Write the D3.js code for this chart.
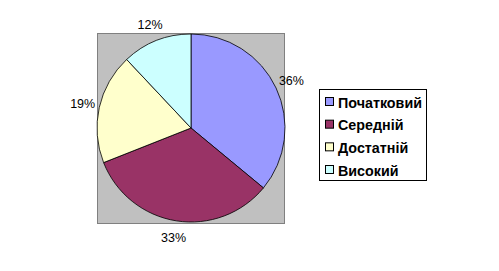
<!DOCTYPE html>
<html><head><meta charset="utf-8">
<script src="https://cdn.jsdelivr.net/npm/d3@7"></script>
<style>body{margin:0;background:#fff}svg{display:block}</style>
</head><body>
<script>
const categories = ["Початковий", "Середній", "Достатній", "Високий"];
const values = [36, 33, 19, 12];
const colors = ["#9999FF", "#993366", "#FFFFCC", "#CCFFFF"];

const W = 499, H = 271;
const svg = d3.select("body").append("svg").attr("width", W).attr("height", H);

// plot area
svg.append("rect").attr("x", 97.5).attr("y", 33.5).attr("width", 187).attr("height", 190)
  .attr("fill", "#C0C0C0").attr("stroke", "#808080").attr("stroke-width", 1);

const cx = 191, cy = 128, r = 94;
const pie = d3.pie().sort(null).value(d => d)(values);
const arc = d3.arc().innerRadius(0).outerRadius(r);
const g = svg.append("g").attr("transform", `translate(${cx},${cy})`);
g.selectAll("path").data(pie).join("path")
  .attr("d", arc).attr("fill", (d, i) => colors[i])
  .attr("stroke", "#000").attr("stroke-width", 0.8);

const total = d3.sum(values);
const labelArc = d3.arc().innerRadius(111).outerRadius(111);
g.selectAll("text").data(pie).join("text")
  .attr("transform", d => `translate(${labelArc.centroid(d)})`)
  .attr("text-anchor", "middle").attr("dominant-baseline", "central")
  .attr("font-family", "Arial, 'Liberation Sans', sans-serif").attr("font-size", 12.5)
  .attr("fill", "#000")
  .text(d => Math.round(d.data / total * 100) + "%");

// legend
const lg = svg.append("g");
lg.append("rect").attr("x", 319.5).attr("y", 89.5).attr("width", 107).attr("height", 91)
  .attr("fill", "#fff").attr("stroke", "#000").attr("stroke-width", 1);
const rowY = d3.scalePoint().domain(categories).range([102, 170]);
categories.forEach((c, i) => {
  const y = rowY(c);
  lg.append("rect").attr("x", 325.5).attr("y", y - 4.5).attr("width", 8).attr("height", 8)
    .attr("fill", colors[i]).attr("stroke", "#000").attr("stroke-width", 1);
  lg.append("text").attr("x", 338).attr("y", y + 0.5).attr("dominant-baseline", "central")
    .attr("font-family", "Arial, 'Liberation Sans', sans-serif").attr("font-size", 14.3)
    .attr("font-weight", "bold").attr("fill", "#000")
    .text(c);
});
</script>
</body></html>
